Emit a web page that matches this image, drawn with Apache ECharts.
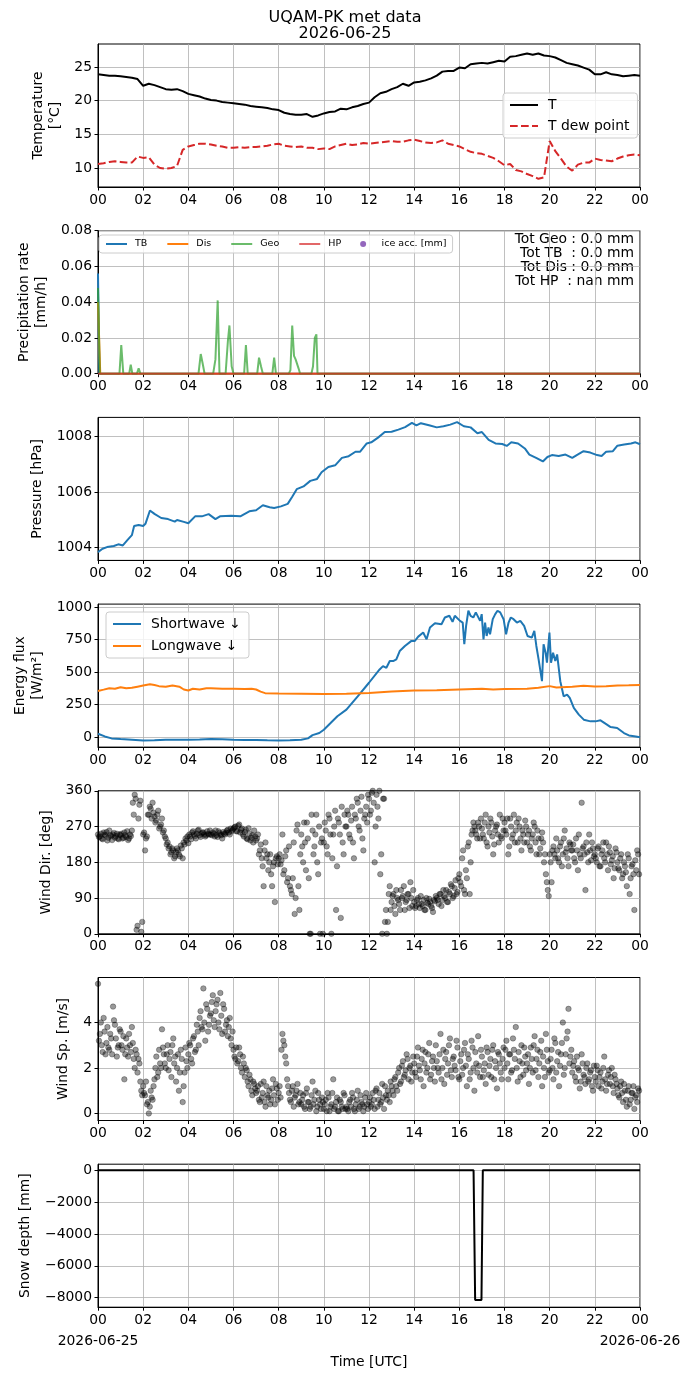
<!DOCTYPE html>
<html>
<head>
<meta charset="utf-8">
<script src="https://cdn.jsdelivr.net/npm/echarts@6/dist/echarts.min.js"></script>
<style>
html, body { margin: 0; padding: 0; background: #fff; }
#chart { width: 690px; height: 1377px; }
</style>
</head>
<body>
<div id="chart"></div>
<script>
// ---- data (hours UTC) ----
// temperature and dew point, every 15 min
const tempVals = [
    23.9,23.8,23.7,23.7, 23.6,23.5,23.4,23.2, 22.2,22.5,22.3,22.0, 21.7,21.6,21.7,21.4,
    21.0,20.8,20.6,20.3, 20.1,20.0,19.8,19.7, 19.6,19.5,19.4,19.2, 19.1,19.0,18.9,18.7,
    18.6,18.2,18.0,17.9, 17.9,18.0,17.6,17.8, 18.1,18.3,18.4,18.8, 18.7,19.0,19.2,19.5,
    19.7,20.5,21.1,21.3, 21.7,22.0,22.5,22.2, 22.7,22.8,23.0,23.3, 23.7,24.3,24.4,24.4,
    24.9,24.8,25.4,25.5, 25.6,25.5,25.7,25.9, 25.8,26.5,26.6,26.8, 27.0,26.8,27.0,26.7,
    26.6,26.4,26.0,25.6, 25.4,25.2,24.9,24.6, 23.9,23.9,24.2,23.9, 23.8,23.6,23.7,23.8, 23.7
];
const dewVals = [
    10.6,10.7,10.9,11.0, 10.9,10.8,10.8,11.7, 11.5,11.6,10.5,10.0, 9.9,10.0,10.3,12.7,
    13.2,13.4,13.6,13.6, 13.5,13.3,13.2,13.0, 13.0,13.1,13.0,13.1, 13.1,13.2,13.3,13.5,
    13.6,13.3,13.2,13.1, 13.2,13.0,13.0,12.8, 12.9,12.8,13.2,13.4, 13.6,13.4,13.5,13.7,
    13.6,13.7,13.8,13.9, 14.0,13.9,13.9,14.1, 14.2,14.0,13.8,13.7, 13.8,14.1,13.6,13.4,
    13.2,12.8,12.4,12.2, 12.1,11.8,11.5,11.0, 10.4,10.6,9.7,9.5, 9.1,8.8,8.4,8.6,
    14.0,12.5,11.4,10.2, 9.6,10.5,10.8,10.8, 11.4,11.2,11.1,11.0, 11.4,11.7,11.9,12.0, 11.9
];

// precipitation rate [mm/h]
const tbHours = [0, 0.06, 24];
const tbVals = [0.056, 0, 0];
const disHours = [0, 0.1, 24];
const disVals = [0.04, 0, 0];
const geoHours = [0,0.08,0.95,1.03,1.12,1.38,1.45,1.52,1.72,1.8,1.88,4.45,4.55,4.63,4.72,5.1,5.2,5.3,5.38,
    5.65,5.75,5.82,5.92,6.0,6.47,6.55,6.63,7.05,7.13,7.22,7.3,7.72,7.8,7.88,8.45,8.52,8.6,8.68,8.75,8.8,
    8.88,8.95,9.45,9.52,9.6,9.67,9.72,24];
const geoVals = [0.048,0,0,0.016,0,0,0.005,0,0,0.003,0,0,0.011,0.006,0,0,0.008,0.041,0,
    0,0.018,0.027,0.004,0,0,0.016,0,0,0.009,0.004,0,0,0.009,0,0,0.002,0.027,0.01,0.008,0.007,
    0.003,0,0,0.004,0.02,0.022,0,0];
const hpHours = [0, 24];
const hpVals = [0, 0];
const precipTotals = ['Tot Geo : 0.0 mm', 'Tot TB  : 0.0 mm', 'Tot Dis : 0.0 mm', 'Tot HP  : nan mm'];

// pressure [hPa]
const pressHours = [0,0.2,0.4,0.7,0.9,1.1,1.3,1.5,1.6,1.8,2.0,2.1,2.3,2.5,2.8,3.1,3.4,3.5,3.8,4.0,
    4.3,4.6,4.9,5.2,5.4,5.9,6.3,6.7,7.0,7.3,7.6,7.8,8.1,8.4,8.6,8.8,9.1,9.4,9.7,9.9,
    10.2,10.5,10.8,11.1,11.4,11.6,11.9,12.1,12.4,12.7,13.0,13.3,13.6,13.9,14.1,14.3,14.7,15.0,15.3,15.6,
    15.9,16.2,16.5,16.8,17.0,17.3,17.6,17.9,18.1,18.3,18.6,18.9,19.1,19.4,19.7,19.9,20.1,20.4,20.7,21.0,
    21.2,21.5,21.8,22.1,22.3,22.5,22.8,23.0,23.3,23.6,23.8,24];
const pressVals = [1003.83,1003.95,1004.01,1004.05,1004.11,1004.07,1004.26,1004.44,1004.77,1004.81,
    1004.77,1004.85,1005.33,1005.21,1005.06,1005.02,1004.93,1004.99,1004.92,1004.87,
    1005.12,1005.12,1005.20,1005.02,1005.12,1005.14,1005.12,1005.30,1005.34,1005.52,
    1005.45,1005.42,1005.48,1005.57,1005.83,1006.10,1006.20,1006.40,1006.47,1006.71,
    1006.90,1006.96,1007.23,1007.29,1007.45,1007.45,1007.75,1007.79,1007.96,1008.16,
    1008.17,1008.25,1008.34,1008.49,1008.40,1008.48,1008.40,1008.33,1008.37,1008.43,
    1008.52,1008.37,1008.33,1008.12,1008.16,1007.88,1007.75,1007.73,1007.66,1007.79,
    1007.75,1007.57,1007.35,1007.23,1007.10,1007.26,1007.33,1007.30,1007.35,1007.23,
    1007.33,1007.47,1007.42,1007.33,1007.30,1007.45,1007.47,1007.67,1007.71,1007.75,1007.79,1007.72];

// radiation [W/m2]
const swHours = [0,0.3,0.6,1,1.5,2,2.5,3,3.5,4,4.5,5,5.5,6,6.5,7,7.5,8,8.5,9,9.3,9.5,9.8,10,10.3,10.6,11,11.5,12,
    12.47,12.62,12.77,12.92,13.07,13.21,13.36,13.59,13.88,14.03,14.18,14.4,14.47,14.55,14.7,14.92,15.21,15.36,
    15.56,15.7,15.8,16.03,16.15,16.22,16.3,16.4,16.5,16.62,16.73,16.81,16.92,16.99,17.07,17.14,17.21,17.29,
    17.36,17.48,17.59,17.69,17.81,17.96,18.07,18.18,18.28,18.4,18.55,18.7,18.87,19.02,19.21,19.32,19.41,
    19.51,19.66,19.73,19.82,19.88,19.99,20.06,20.15,20.25,20.33,20.47,20.62,20.77,20.89,21.07,21.29,21.51,
    21.81,22.03,22.25,22.47,22.7,22.99,23.29,23.51,23.81,24];
const swVals = [26,5,-10,-15,-20,-26,-24,-20,-21,-20,-18,-15,-17,-20,-22,-23,-25,-26,-24,-20,-10,15,31,57,108,160,211,314,418,
    520,546,533,585,585,598,662,701,740,740,773,804,809,752,843,876,868,920,
    933,886,933,894,881,714,856,972,933,920,959,972,894,946,752,881,778,843,
    791,907,946,972,959,907,791,881,920,907,881,894,856,778,765,817,701,
    598,430,714,649,572,804,572,649,585,636,430,314,327,301,224,173,134,
    121,121,129,103,77,70,31,13,5,-2];
const lwHours = [0,0.25,0.5,0.75,1,1.25,1.5,1.75,2,2.3,2.5,2.7,3,3.3,3.6,3.8,4,4.2,4.5,4.8,5,5.5,6,6.5,6.8,7,7.2,7.4,
    8,9,10,11,12,13,14,15,16,17,17.5,18,19,19.5,20,20.3,21,21.5,22,22.5,23,23.5,24];
const lwVals = [355,365,376,372,384,375,379,388,397,406,400,392,387,397,388,366,358,372,366,375,376,372,371,370,372,366,350,338,
    335,334,332,333,340,350,358,361,366,371,366,369,371,379,392,381,387,394,390,392,397,398,400];

// wind: two samples every 5 min (A on the 5-min mark, B 2.5 min later), 12 per hour
const windDirA = [
    250,245,240,255,248,235,260,246,250,242,252,238,
    248,240,255,244,236,250,260,300,340,20,325,5,
    250,210,245,300,315,330,295,285,310,270,290,260,
    240,230,220,205,210,195,215,200,222,190,225,235,
    228,245,255,250,240,260,248,252,255,245,258,250,
    250,255,245,248,258,250,240,252,255,262,250,258,
    265,270,258,275,262,250,256,240,266,235,248,260,
    235,250,210,190,120,230,200,180,150,170,80,195,
    190,175,250,160,210,140,120,100,230,90,275,60,
    250,180,230,280,140,0,260,220,300,150,0,240,
    230,260,200,290,0,250,310,170,280,40,230,300,
    270,300,240,320,190,290,330,260,345,210,300,280,
    340,310,360,180,350,290,150,0,340,60,30,120,
    80,100,50,90,75,110,95,60,85,100,130,70,
    80,70,90,65,75,85,60,78,88,70,55,82,
    90,75,100,85,95,110,80,100,120,95,135,105,
    150,120,210,100,140,230,180,260,270,250,280,240,
    265,240,300,220,255,280,200,260,275,230,245,290,
    280,250,200,290,240,300,260,230,270,210,250,285,
    230,260,210,250,270,200,240,215,255,180,150,110,
    200,130,220,190,210,180,230,200,260,215,170,225,
    210,190,240,160,200,330,220,110,205,250,185,215,
    200,180,220,170,210,190,230,160,205,185,140,215,
    180,160,200,150,170,120,190,140,175,60,160,200
];
const windDirB = [
    244,252,238,250,256,242,248,236,254,246,240,250,
    252,242,248,258,240,246,330,350,10,290,335,30,
    255,240,300,320,290,305,280,300,265,275,255,245,
    225,215,200,215,190,205,210,195,215,230,240,245,
    250,238,258,246,252,262,244,255,250,248,252,260,
    248,252,260,244,254,248,256,250,260,255,265,262,
    268,258,272,255,265,245,262,238,252,242,230,245,
    240,200,225,170,210,190,160,200,120,180,190,175,
    200,185,150,195,130,220,110,140,50,260,120,200,
    220,280,160,240,0,300,200,250,180,270,230,0,
    280,220,300,250,190,270,60,290,250,320,200,270,
    310,250,285,230,300,340,270,310,240,290,320,350,
    300,355,330,270,320,360,200,340,30,0,100,60,
    95,70,110,85,60,90,120,80,100,65,90,110,
    65,85,75,95,70,60,90,75,80,65,85,95,
    85,100,70,110,90,80,105,125,90,115,100,140,
    130,190,110,160,220,100,250,280,260,240,270,290,
    250,280,230,270,290,245,225,270,250,300,240,260,
    260,290,220,270,250,230,280,290,240,260,230,270,
    250,220,240,280,230,260,200,240,230,200,130,95,
    180,210,200,240,190,220,170,240,205,190,230,210,
    225,180,210,250,190,215,200,230,180,210,230,195,
    190,215,170,200,230,180,200,220,175,195,165,205,
    165,190,140,180,155,200,100,170,150,185,210,150
];
const windSpdA = [
    5.7,3.5,3.0,4.2,2.6,3.8,2.8,3.3,4.7,3.9,2.5,3.0,
    3.6,2.8,1.5,3.3,2.5,3.0,3.8,2.4,2.8,1.8,2.2,1.0,
    1.2,0.8,0.4,0.0,1.0,0.6,1.5,2.5,1.8,2.2,3.7,2.6,
    2.0,3.0,2.4,1.6,3.3,2.5,2.0,1.0,2.8,0.5,1.8,2.3,
    2.6,3.0,2.2,3.4,2.8,3.6,4.2,3.8,5.5,3.2,4.6,3.9,
    4.4,5.2,3.8,4.8,4.0,5.3,3.5,4.6,3.9,3.4,4.2,3.0,
    2.8,2.4,2.2,2.9,2.0,2.5,1.6,1.9,1.2,1.5,0.8,1.3,
    0.9,1.2,0.5,0.7,1.4,0.3,0.8,1.0,0.6,1.5,0.4,1.1,
    0.9,0.7,3.5,3.0,2.2,1.2,0.6,1.0,0.3,0.8,1.3,0.5,
    0.4,0.8,0.2,1.1,0.5,0.3,1.4,0.6,0.1,0.9,0.4,0.7,
    0.2,0.6,0.9,0.1,0.4,1.5,0.3,0.7,0.1,0.5,0.2,0.8,
    0.3,0.1,0.6,0.9,0.2,0.4,1.0,0.3,0.5,0.1,0.7,0.4,
    0.5,0.3,0.9,0.2,1.1,0.6,0.4,1.3,0.2,0.8,1.0,0.5,
    1.2,0.8,1.6,1.0,2.0,1.4,2.3,1.7,2.6,1.5,2.1,1.8,
    2.2,1.6,2.9,1.9,2.4,1.2,2.7,2.0,3.1,1.7,2.5,1.4,
    2.3,1.8,3.5,2.0,1.3,2.7,2.2,3.3,1.6,2.5,1.9,2.9,
    1.5,2.6,2.0,3.1,1.2,2.4,1.8,2.9,1.0,2.2,3.4,1.6,
    2.5,1.9,1.3,2.7,2.1,1.6,3.0,2.3,1.1,2.6,1.8,2.4,
    2.0,3.2,1.5,2.6,1.9,2.8,3.8,1.4,2.3,3.0,1.7,2.5,
    2.2,1.3,2.9,1.8,3.4,2.4,1.6,2.7,1.2,2.0,3.5,2.3,
    1.9,2.8,1.5,3.1,2.3,1.2,2.6,4.0,2.0,3.3,4.6,2.5,
    1.8,2.3,1.4,2.0,1.1,2.6,1.7,1.3,2.2,1.5,1.9,1.0,
    1.6,2.1,1.2,1.8,1.4,2.5,1.0,1.7,1.3,2.0,0.9,1.5,
    1.1,0.7,1.4,0.5,1.0,0.3,1.2,0.6,0.9,0.2,0.8,1.1
];
const windSpdB = [
    3.2,4.0,2.7,3.6,3.1,2.9,3.5,2.6,4.1,3.3,2.9,3.7,
    3.0,3.4,2.6,2.9,3.5,2.7,3.1,2.0,2.6,2.4,1.4,0.8,
    0.9,1.4,0.5,0.3,0.7,1.2,2.0,1.6,2.8,2.0,2.9,2.2,
    2.6,1.9,2.7,3.0,2.2,1.4,2.6,1.8,2.4,1.2,2.9,2.0,
    3.1,2.4,3.3,2.7,3.9,3.0,4.5,3.7,4.0,4.8,3.6,4.3,
    4.9,4.1,4.5,5.0,3.7,4.3,4.8,3.6,4.1,3.8,3.3,3.6,
    2.5,2.9,2.3,2.6,1.8,2.2,2.0,1.4,1.7,1.0,1.4,1.1,
    1.0,0.6,1.3,0.9,0.5,1.2,0.7,0.4,1.1,0.8,1.3,0.6,
    1.2,2.8,3.2,2.5,1.5,0.9,0.5,1.2,0.7,1.0,0.4,0.9,
    0.6,0.3,0.9,0.5,0.2,0.8,0.4,1.0,0.3,0.6,0.2,0.5,
    0.4,0.1,0.7,0.3,0.9,0.2,0.5,0.1,0.6,0.3,0.9,0.2,
    0.2,0.5,0.3,0.7,0.1,0.6,0.2,0.8,0.4,0.3,0.9,0.2,
    0.7,0.4,0.6,1.0,0.3,0.9,0.5,0.7,1.2,0.6,0.8,1.4,
    1.0,1.5,1.2,1.8,1.3,2.1,1.6,1.9,2.4,2.0,1.4,2.5,
    1.8,2.5,2.1,1.5,2.8,2.2,1.8,2.6,1.5,2.3,2.0,3.0,
    2.0,2.6,1.5,2.8,2.4,1.7,3.0,1.9,2.4,2.1,3.2,1.6,
    2.3,1.7,2.8,2.1,2.6,1.5,3.2,2.0,2.7,1.8,2.1,2.8,
    1.6,2.2,2.9,1.7,2.4,2.8,1.5,2.0,2.7,2.2,1.5,2.9,
    2.8,2.2,2.6,1.8,3.3,2.4,2.0,2.7,1.6,2.2,2.9,1.9,
    2.6,2.0,2.4,3.0,1.9,2.8,2.2,3.2,2.5,1.6,2.8,1.8,
    2.4,2.0,3.3,1.8,2.7,2.1,3.1,1.7,2.6,3.6,2.2,2.8,
    2.1,1.6,2.5,1.9,1.4,2.2,1.6,2.0,1.4,1.8,1.2,2.1,
    1.4,1.9,1.6,1.1,2.0,1.5,1.3,1.9,1.6,1.2,1.7,1.3,
    0.8,1.2,0.9,1.3,0.6,1.0,0.4,0.9,1.2,0.7,0.5,1.0
];

// snow depth [mm]
const snowHours = [0, 16.63, 16.7, 16.98, 17.04, 24];
const snowVals = [0, 0, -8150, -8150, 0, 0];

// tick values per panel
const tempTicks = [10, 15, 20, 25];
const precipTicks = [0, 0.02, 0.04, 0.06, 0.08];
const pressTicks = [1004, 1006, 1008];
const fluxTicks = [0, 250, 500, 750, 1000];
const dirTicks = [0, 90, 180, 270, 360];
const spdTicks = [0, 2, 4];
const snowTicks = [-8000, -6000, -4000, -2000, 0];
const dayLabels = ['2026-06-25', '2026-06-26'];

// ---- chart ----
const FONT = 'DejaVu Sans';
const FS = 13.9;

function zip(hours, vals) {
    let out = [];
    for (let i = 0; i < Math.min(hours.length, vals.length); ++i) out.push([hours[i], vals[i]]);
    return out;
}
function regular(vals, step, offset) {
    return vals.map((v, i) => [i * step + (offset || 0), v]);
}
function hourLabel(v) {
    return String(Math.round(v) % 24).padStart(2, '0');
}
function minus(s) {
    return String(s).replace('-', '\u2212');
}

const panels = [
    {min: 7.18, max: 28.4, ticks: tempTicks, name: 'Temperature\n[°C]', gap: 31},
    {min: 0, max: 0.08, ticks: precipTicks, name: 'Precipitation rate\n[mm/h]', gap: 40, fmt: v => v.toFixed(2)},
    {min: 1003.53, max: 1008.69, ticks: pressTicks, name: 'Pressure [hPa]', gap: 45},
    {min: -77, max: 1023, ticks: fluxTicks, name: 'Energy flux\n[W/m²]', gap: 52},
    {min: 0, max: 360, ticks: dirTicks, name: 'Wind Dir. [deg]', gap: 38},
    {min: -0.31, max: 5.98, ticks: spdTicks, name: 'Wind Sp. [m/s]', gap: 24},
    {min: -8600, max: 380, ticks: snowTicks, name: 'Snow depth [mm]', gap: 57},
];

const grids = [], xAxes = [], yAxes = [];
panels.forEach((p, i) => {
    const last = i === panels.length - 1;
    grids.push({
        left: 98, right: 50, top: 44 + i * 186.7, height: 143,
        show: true, borderColor: '#000', borderWidth: 1, backgroundColor: 'transparent'
    });
    xAxes.push({
        type: 'value', gridIndex: i, min: 0, max: 24, interval: 2, position: 'bottom',
        axisLine: {show: true, onZero: false, lineStyle: {color: '#000', width: 1}},
        axisTick: {show: true, length: 3.5, lineStyle: {color: '#000'}},
        axisLabel: {
            margin: 6, color: '#000', fontSize: FS, fontFamily: FONT,
            showMinLabel: true, showMaxLabel: true, formatter: hourLabel
        },
        splitLine: {show: true, lineStyle: {color: '#b0b0b0', width: 0.8}},
        name: last ? 'Time [UTC]' : '',
        nameLocation: 'middle', nameGap: 48,
        nameTextStyle: {color: '#000', fontSize: FS, fontFamily: FONT}
    });
    yAxes.push({
        type: 'value', gridIndex: i, min: p.min, max: p.max,
        axisLine: {show: true, onZero: false, lineStyle: {color: '#000', width: 1}},
        axisTick: {show: true, length: 3.5, customValues: p.ticks, lineStyle: {color: '#000'}},
        axisLabel: {
            customValues: p.ticks, margin: 6, color: '#000', fontSize: FS, fontFamily: FONT,
            formatter: v => minus(p.fmt ? p.fmt(v) : v)
        },
        splitLine: {show: true, lineStyle: {color: '#b0b0b0', width: 0.8}},
        name: p.name, nameLocation: 'middle', nameGap: p.gap,
        nameTextStyle: {color: '#000', fontSize: FS, fontFamily: FONT, lineHeight: 17}
    });
});
// date labels under the first and last hour of the bottom panel
xAxes.push({
    type: 'value', gridIndex: panels.length - 1, min: 0, max: 24, position: 'bottom', offset: 0,
    axisLine: {show: false}, axisTick: {show: false}, splitLine: {show: false},
    axisLabel: {
        customValues: [0, 24], margin: 27, color: '#000', fontSize: FS, fontFamily: FONT,
        showMinLabel: true, showMaxLabel: true,
        formatter: v => (v < 12 ? dayLabels[0] : dayLabels[1])
    }
});

function line(name, idx, data, color, extra) {
    return {
        name: name, type: 'line', xAxisIndex: idx, yAxisIndex: idx, data: data,
        symbol: 'none', showSymbol: false,
        lineStyle: Object.assign({color: color, width: 2}, extra || {}),
        itemStyle: {color: color}
    };
}
function dots(idx, data) {
    return {
        type: 'scatter', xAxisIndex: idx, yAxisIndex: idx, data: data, symbolSize: 5.5,
        itemStyle: {color: 'rgba(0,0,0,0.5)', borderColor: 'rgba(0,0,0,0.6)', borderWidth: 0.6}
    };
}

const series = [
    line('T', 0, regular(tempVals, 0.25), '#000'),
    line('T dew point', 0, regular(dewVals, 0.25), '#d62728', {type: [7.7, 3.3]}),
    line('TB', 1, zip(tbHours, tbVals), '#1f77b4'),
    line('Dis', 1, zip(disHours, disVals), '#ff7f0e'),
    line('Geo', 1, zip(geoHours, geoVals), 'rgba(44,160,44,0.7)'),
    line('HP', 1, zip(hpHours, hpVals), 'rgba(214,39,40,0.7)'),
    {name: 'ice acc. [mm]', type: 'scatter', xAxisIndex: 1, yAxisIndex: 1, data: [], itemStyle: {color: '#9467bd'}},
    line('Pressure', 2, zip(pressHours, pressVals), '#1f77b4'),
    line('Shortwave ↓', 3, zip(swHours, swVals), '#1f77b4'),
    line('Longwave ↓', 3, zip(lwHours, lwVals), '#ff7f0e'),
    dots(4, regular(windDirA, 1 / 12)),
    dots(4, regular(windDirB, 1 / 12, 1 / 24)),
    dots(5, regular(windSpdA, 1 / 12)),
    dots(5, regular(windSpdB, 1 / 12, 1 / 24)),
    line('Snow', 6, zip(snowHours, snowVals), '#000'),
];

const legendBox = {
    backgroundColor: 'rgba(255,255,255,0.8)', borderColor: '#cccccc', borderWidth: 1, borderRadius: 3,
    itemStyle: {opacity: 0}
};

const option = {
    animation: false,
    backgroundColor: '#fff',
    textStyle: {fontFamily: FONT},
    title: {
        text: 'UQAM-PK met data\n2026-06-25', left: 'center', top: 5,
        textStyle: {fontSize: 16, fontWeight: 'normal', color: '#000', fontFamily: FONT, lineHeight: 16}
    },
    grid: grids,
    xAxis: xAxes,
    yAxis: yAxes,
    legend: [
        Object.assign({
            data: ['T', 'T dew point'], left: 503, top: 93, orient: 'vertical',
            itemWidth: 28, itemHeight: 10, itemGap: 7, padding: [5, 8, 5, 6],
            textStyle: {fontSize: FS, color: '#000', fontFamily: FONT, padding: [0, 0, 0, 5]}
        }, legendBox),
        Object.assign({
            data: ['TB', 'Dis', 'Geo', 'HP', {name: 'ice acc. [mm]', itemStyle: {opacity: 1}}],
            left: 99, top: 235, orient: 'horizontal',
            itemWidth: 21, itemHeight: 6, itemGap: 19, padding: [4, 6, 4, 6],
            textStyle: {fontSize: 9.5, color: '#000', fontFamily: FONT, padding: [0, 0, 0, 3]}
        }, legendBox),
        Object.assign({
            data: ['Shortwave ↓', 'Longwave ↓'], left: 106, top: 612, orient: 'vertical',
            itemWidth: 28, itemHeight: 10, itemGap: 8, padding: [5, 8, 5, 6],
            textStyle: {fontSize: FS, color: '#000', fontFamily: FONT, padding: [0, 0, 0, 5]}
        }, legendBox),
    ],
    graphic: [{
        type: 'text', x: 634, y: 232,
        style: {
            text: precipTotals.join('\n'), fill: '#000', align: 'right', verticalAlign: 'top',
            font: FS + 'px ' + FONT, lineHeight: 14
        }
    }],
    series: series
};

const chart = echarts.init(document.getElementById('chart'));
chart.setOption(option);
</script>
</body>
</html>
